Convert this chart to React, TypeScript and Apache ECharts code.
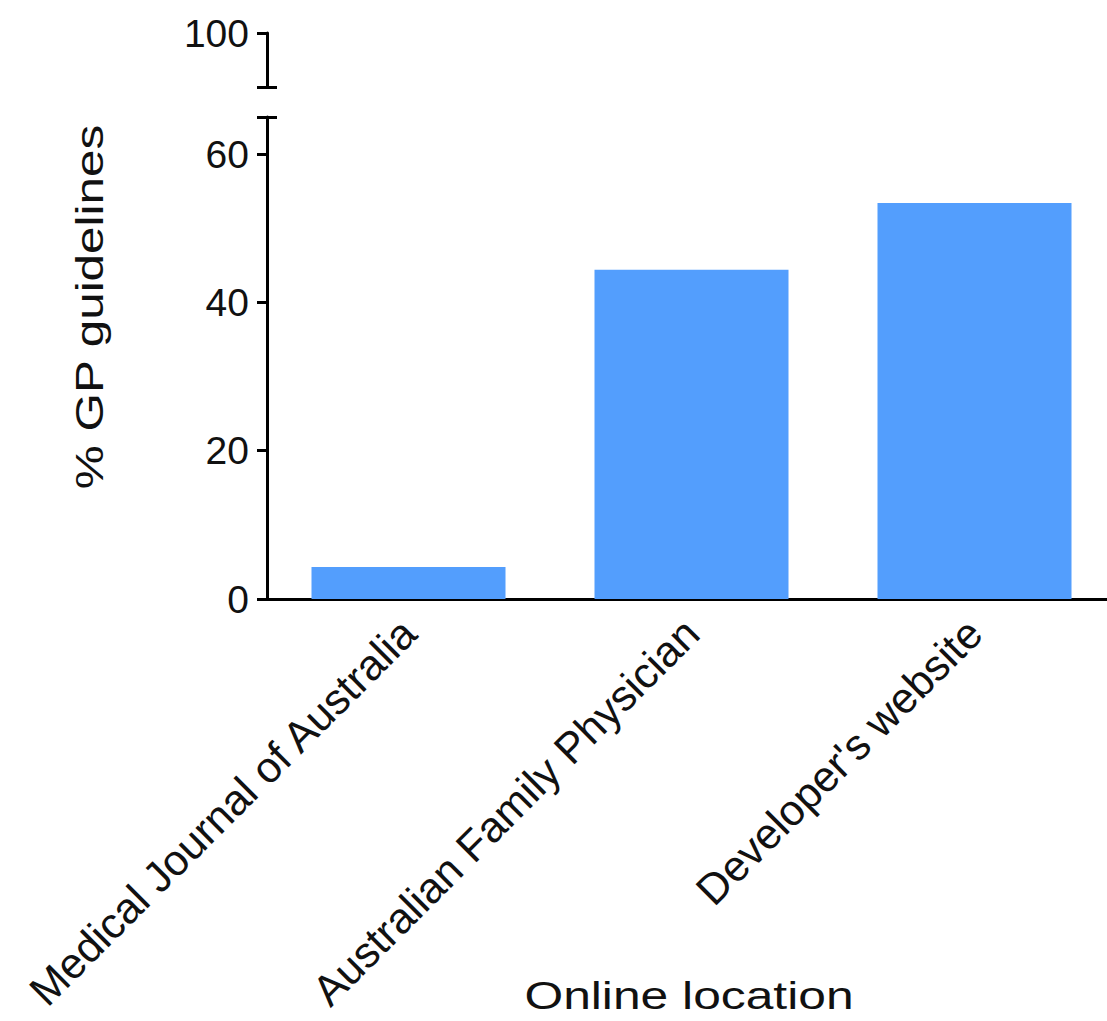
import React, { useEffect, useRef } from 'react';
import * as echarts from 'echarts';

const categories = ['Medical Journal of Australia', 'Australian Family Physician', "Developer's website"];
const values = [4.3, 44.4, 53.4];
const lowerTickValues = [0, 20, 40, 60];
const lowerMax = 65;
const upperTickValues = [100];
const upperMin = 92.7;
const upperMax = 100;
const yTitle = '% GP guidelines';
const xTitle = 'Online location';

export default function App() {
  const ref = useRef<HTMLDivElement>(null);
  useEffect(() => {
    document.body.style.margin = '0';
    document.body.style.overflow = 'hidden';
    const chart = echarts.init(ref.current!, null, { renderer: 'svg' });
    const font = 'Arial, "Liberation Sans", Helvetica, sans-serif';
    const black = '#000';
    const textColor = '#111';
    const lineW = 3;
    const tickLen = 10;
    const yLabel = { fontSize: 39, color: textColor, fontFamily: font, margin: 18 };
    chart.setOption({
      animation: false,
      grid: [
        { left: 267, top: 33, width: 849, height: 54, outerBoundsMode: 'none', containLabel: false },
        { left: 267, top: 117, width: 849, height: 482, outerBoundsMode: 'none', containLabel: false },
      ],
      xAxis: [
        { gridIndex: 0, type: 'category', data: categories, show: false },
        {
          gridIndex: 1,
          type: 'category',
          data: categories,
          axisLine: { lineStyle: { color: black, width: lineW } },
          axisTick: { alignWithLabel: true, length: 11, lineStyle: { width: lineW, color: black } },
          axisLabel: { rotate: 45, fontSize: 43, color: textColor, fontFamily: font, margin: 27, interval: 0 },
        },
      ],
      yAxis: [
        {
          gridIndex: 0, type: 'value', position: 'left', min: upperMin, max: upperMax,
          splitLine: { show: false },
          axisLine: { show: true, lineStyle: { color: black, width: lineW } },
          axisTick: { show: true, length: tickLen, customValues: [upperMin, ...upperTickValues], lineStyle: { width: lineW, color: black } },
          axisLabel: { ...yLabel, customValues: upperTickValues },
        },
        {
          gridIndex: 0, type: 'value', position: 'left', min: upperMin, max: upperMax,
          splitLine: { show: false },
          axisLine: { show: false },
          axisTick: { show: true, inside: true, length: tickLen, customValues: [upperMin], lineStyle: { width: lineW, color: black } },
          axisLabel: { show: false },
        },
        {
          gridIndex: 1, type: 'value', position: 'left', min: 0, max: lowerMax,
          splitLine: { show: false },
          axisLine: { show: true, lineStyle: { color: black, width: lineW } },
          axisTick: { show: true, length: tickLen, customValues: [...lowerTickValues, lowerMax], lineStyle: { width: lineW, color: black } },
          axisLabel: { ...yLabel, customValues: lowerTickValues },
        },
        {
          gridIndex: 1, type: 'value', position: 'left', min: 0, max: lowerMax,
          splitLine: { show: false },
          axisLine: { show: false },
          axisTick: { show: true, inside: true, length: tickLen, customValues: [lowerMax], lineStyle: { width: lineW, color: black } },
          axisLabel: { show: false },
        },
      ],
      series: [
        {
          type: 'bar',
          xAxisIndex: 1,
          yAxisIndex: 2,
          data: values,
          barWidth: 194,
          itemStyle: { color: '#539EFD' },
        },
      ],
      graphic: [
        {
          type: 'text',
          x: 90,
          y: 307,
          rotation: Math.PI / 2,
          scaleX: 1.3,
          style: { text: yTitle, font: `38px ${font}`, fill: textColor, align: 'center', verticalAlign: 'middle', textAlign: 'center', textVerticalAlign: 'middle' },
        },
        {
          type: 'text',
          x: 689,
          y: 996,
          scaleX: 1.31,
          style: { text: xTitle, font: `38px ${font}`, fill: textColor, align: 'center', verticalAlign: 'middle', textAlign: 'center', textVerticalAlign: 'middle' },
        },
      ],
    });
    return () => chart.dispose();
  }, []);
  return <div ref={ref} style={{ width: 1107, height: 1021 }} />;
}
